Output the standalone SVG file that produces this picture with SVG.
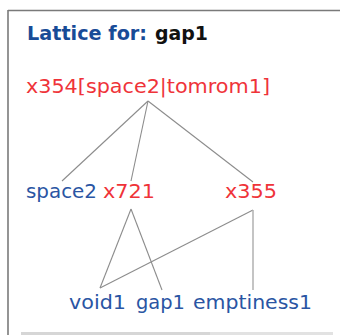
<svg xmlns="http://www.w3.org/2000/svg" width="340" height="335" viewBox="0 0 340 335">
  <style>
    .lbl { font-family: "DejaVu Sans", Verdana, sans-serif; font-size: 20px; }
    .red { fill: #ef3339; }
    .blue { fill: #2a55a3; }
    .title { font-family: "DejaVu Sans", Verdana, sans-serif; font-size: 19.5px; font-weight: bold; }
    .edge { stroke: #8c8c8c; stroke-width: 1.1; fill: none; }
  </style>
  <rect x="0" y="0" width="340" height="335" fill="#ffffff"/>
  <g id="frame">
    <line x1="8" y1="10.5" x2="340" y2="10.5" stroke="#7a7a7a" stroke-width="1.6"/>
    <line x1="8" y1="10" x2="8" y2="335" stroke="#7a7a7a" stroke-width="1.6"/>
    <rect x="21" y="332" width="189" height="3" fill="#d6d6d6"/>
    <rect x="210" y="332" width="123" height="3" fill="#e2e2e2"/>
  </g>
  <g id="title">
    <text class="title" x="27" y="40" fill="#184b97" textLength="120" lengthAdjust="spacingAndGlyphs">Lattice for:</text>
    <text class="title" x="155" y="40" fill="#111111" textLength="53" lengthAdjust="spacingAndGlyphs">gap1</text>
  </g>
  <g id="connectors">
    <line class="edge" x1="148" y1="101" x2="62" y2="181"/>
    <line class="edge" x1="148" y1="101" x2="131" y2="181"/>
    <line class="edge" x1="148" y1="101" x2="253" y2="182"/>
    <line class="edge" x1="131" y1="209" x2="100" y2="288"/>
    <line class="edge" x1="131" y1="209" x2="162" y2="290"/>
    <line class="edge" x1="253" y1="210" x2="100" y2="288"/>
    <line x1="253" y1="210" x2="253" y2="290" stroke="#b0b0b0" stroke-width="1.5"/>
  </g>
  <g id="x354">
    <text class="lbl red" x="26" y="93" textLength="244" lengthAdjust="spacingAndGlyphs">x354[space2|tomrom1]</text>
  </g>
  <g id="space2">
    <text class="lbl blue" x="26" y="198" textLength="71" lengthAdjust="spacingAndGlyphs">space2</text>
  </g>
  <g id="x721">
    <text class="lbl red" x="103" y="198" textLength="52" lengthAdjust="spacingAndGlyphs">x721</text>
  </g>
  <g id="x355">
    <text class="lbl red" x="225" y="198" textLength="52" lengthAdjust="spacingAndGlyphs">x355</text>
  </g>
  <g id="void1">
    <text class="lbl blue" x="69" y="309" textLength="57" lengthAdjust="spacingAndGlyphs">void1</text>
  </g>
  <g id="gap1">
    <text class="lbl blue" x="136" y="309" textLength="49" lengthAdjust="spacingAndGlyphs">gap1</text>
  </g>
  <g id="emptiness1">
    <text class="lbl blue" x="193" y="309" textLength="119" lengthAdjust="spacingAndGlyphs">emptiness1</text>
  </g>
</svg>
